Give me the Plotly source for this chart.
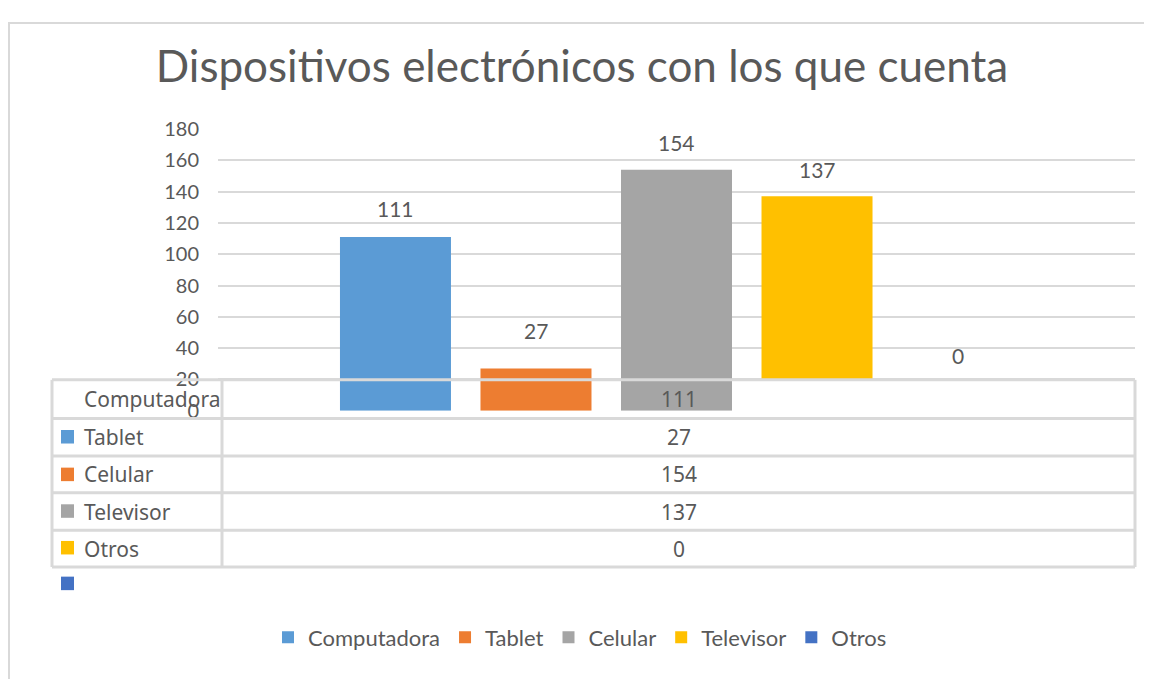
import plotly.graph_objects as go

# chart data
series = ["Computadora", "Tablet", "Celular", "Televisor", "Otros"]
values = [111, 27, 154, 137, 0]
colors = ["#5B9BD5", "#ED7D31", "#A5A5A5", "#FFC000", "#4472C4"]
y_ticks = [0, 20, 40, 60, 80, 100, 120, 140, 160, 180]

W, H = 1152, 679
OFF = 8  # page body margin
GRID = "#D9D9D9"
TXT = "#595959"


def px(x):
    return (x - OFF) / W


def py(y):
    return 1 - (y - OFF) / H


fig = go.Figure()

for name, val, col in zip(series, values, colors):
    fig.add_trace(go.Bar(
        x=[name], y=[val], name=name,
        marker=dict(color=col, line=dict(width=0)),
        width=0.79,
    ))

# data labels above the bars (spacing differs per bar, like the original)
label_shift = [29, 38, 27, 27, 55]
for name, val, dy in zip(series, values, label_shift):
    fig.add_annotation(x=name, y=val, yshift=dy, text=str(val), showarrow=False,
                       yanchor="middle", font=dict(size=21, color=TXT), xref="x", yref="y")

shapes = []
# chart frame
shapes.append(dict(type="rect", xref="paper", yref="paper",
                   x0=px(OFF + 1), x1=px(1175), y0=py(700), y1=py(10),
                   line=dict(color=GRID, width=2), fillcolor="rgba(0,0,0,0)", layer="below"))

# data table under the plot
tbl_l, tbl_m, tbl_r = 52, 222, 1135
row_y = [380, 420, 459, 497, 536, 574]
# white cell hiding the lower part of the last bars
shapes.append(dict(type="rect", xref="paper", yref="paper",
                   x0=px(733), x1=px(tbl_r), y0=py(row_y[1]), y1=py(row_y[0]),
                   line=dict(width=0), fillcolor="white", layer="above"))
for y in row_y:
    shapes.append(dict(type="line", xref="paper", yref="paper",
                       x0=px(tbl_l), x1=px(tbl_r), y0=py(y), y1=py(y),
                       line=dict(color=GRID, width=3), layer="above"))
for x in (tbl_l, tbl_m, tbl_r):
    shapes.append(dict(type="line", xref="paper", yref="paper",
                       x0=px(x), x1=px(x), y0=py(row_y[0]), y1=py(row_y[-1]),
                       line=dict(color=GRID, width=3), layer="above"))

for i, (name, val) in enumerate(zip(series, values)):
    yc = (row_y[i] + row_y[i + 1]) / 2
    fig.add_annotation(x=px(82), y=py(yc), xref="paper", yref="paper",
                       xanchor="left", yanchor="middle", text=name, showarrow=False,
                       font=dict(size=21, color=TXT, family="Noto Sans"))
    fig.add_annotation(x=px((tbl_m + tbl_r) / 2), y=py(yc), xref="paper", yref="paper",
                       xanchor="center", yanchor="middle", text=str(val), showarrow=False,
                       font=dict(size=21, color=TXT, family="Noto Sans"))

# legend keys of the table, shifted one row down
key_y = [439, 478, 516, 554, 591]
for col, yk in zip(colors, key_y):
    shapes.append(dict(type="rect", xref="paper", yref="paper",
                       x0=px(61), x1=px(74), y0=py(yk + 7), y1=py(yk - 7),
                       line=dict(width=0), fillcolor=col, layer="above"))

fig.update_layout(
    width=W, height=H,
    margin=dict(l=0, r=0, t=0, b=0),
    paper_bgcolor="white", plot_bgcolor="rgba(0,0,0,0)",
    font=dict(family="Lato", color=TXT),
    title=dict(text="Dispositivos electrónicos con los que cuenta",
               x=px(582), xanchor="center", y=py(67), yanchor="middle",
               font=dict(size=44, color=TXT, family="Lato")),
    barmode="overlay",
    showlegend=True,
    legend=dict(orientation="h", x=px(580), xanchor="center", y=py(647), yanchor="middle",
                font=dict(size=22, color=TXT), itemclick=False),
    shapes=shapes,
    xaxis=dict(domain=[px(218), px(1135)], range=[-1.263, 5.263],
               showticklabels=False, showgrid=False, zeroline=False, showline=False,
               categoryorder="array", categoryarray=series),
    yaxis=dict(domain=[py(412), py(120)], range=[0, 180], tickvals=y_ticks,
               showgrid=True, gridcolor=GRID, gridwidth=2,
               zeroline=True, zerolinecolor="white", showline=False,
               tickfont=dict(size=20, color=TXT), ticklabelstandoff=18),
)

fig.write_html("out.html")
